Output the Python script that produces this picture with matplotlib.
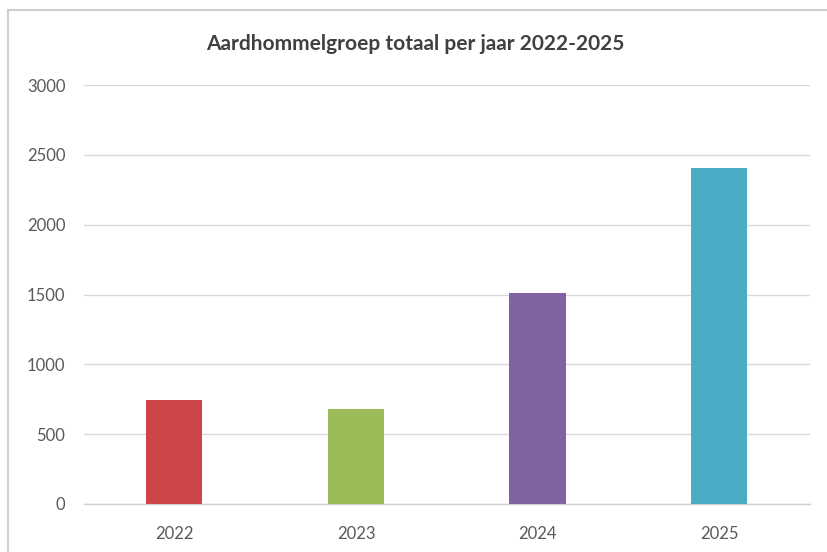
import matplotlib
matplotlib.use("Agg")
import matplotlib.pyplot as plt
from matplotlib.lines import Line2D

years = ["2022", "2023", "2024", "2025"]
totals = [742, 680, 1512, 2403]
colors = ["#CC4548", "#9BBB59", "#8064A2", "#4BACC6"]
yticks = [0, 500, 1000, 1500, 2000, 2500, 3000]
title = "Aardhommelgroep totaal per jaar 2022-2025"

W, H = 827, 552
fig = plt.figure(figsize=(W / 100, H / 100), dpi=100)
fig.patch.set_facecolor("white")

# chart border (top and left edges visible)
fig.add_artist(Line2D([8 / W, 1.0], [1 - 10 / H, 1 - 10 / H],
                      transform=fig.transFigure, color="#CFCFCF", linewidth=1.5))
fig.add_artist(Line2D([8 / W, 8 / W], [0.0, 1 - 10 / H],
                      transform=fig.transFigure, color="#CFCFCF", linewidth=1.5))

ax = fig.add_axes([83.5 / W, 1 - 504 / H, (810 - 83.5) / W, (504 - 85) / H])
x = range(len(years))
ax.bar(x, totals, width=0.31, color=colors, zorder=3)
ax.set_xlim(-0.5, len(years) - 0.5)
ax.set_ylim(0, 3000)
ax.set_yticks(yticks)
ax.set_yticklabels([str(v) for v in yticks])
ax.set_xticks(list(x))
ax.set_xticklabels(years)
ax.yaxis.grid(True, color="#D9D9D9", linewidth=1.0, zorder=0)
for s in ["top", "right", "left"]:
    ax.spines[s].set_visible(False)
ax.spines["bottom"].set_color("#D0D0D0")
ax.spines["bottom"].set_linewidth(1.0)
ax.tick_params(axis="both", length=0, colors="#595959", labelsize=12)
ax.tick_params(axis="y", pad=13)
ax.tick_params(axis="x", pad=16)
for lab in ax.get_xticklabels() + ax.get_yticklabels():
    lab.set_fontfamily("Lato")

fig.text(415 / W, 1 - 44 / H, title, ha="center", va="center",
         fontsize=15, fontweight="bold", color="#404040", fontfamily="Lato")

fig.savefig("out.png", dpi=100, facecolor="white")
